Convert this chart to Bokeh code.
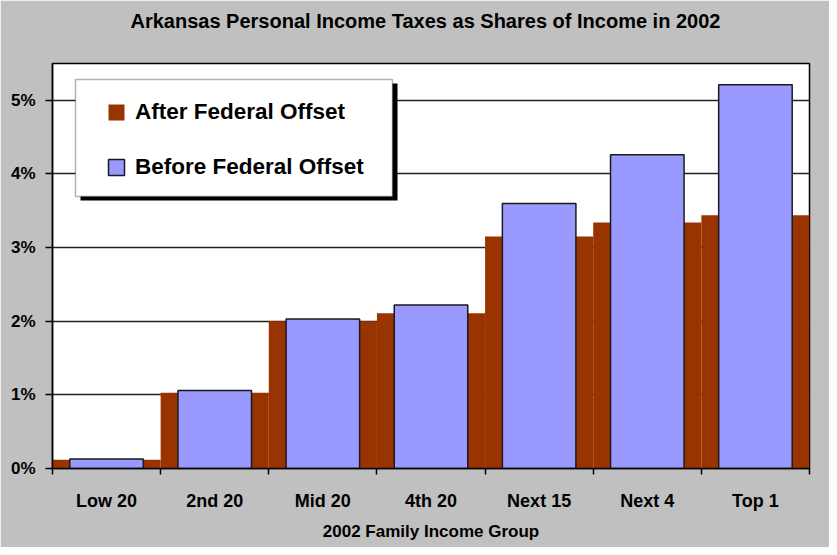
from bokeh.plotting import figure
from bokeh.models import FixedTicker, Legend, LegendItem, BoxAnnotation, Range1d, ColumnDataSource, Title
from bokeh.embed import file_html
from bokeh.resources import INLINE

categories = ["Low 20", "2nd 20", "Mid 20", "4th 20", "Next 15", "Next 4", "Top 1"]
after_offset = [0.12, 1.03, 2.00, 2.11, 3.15, 3.34, 3.44]
before_offset = [0.13, 1.06, 2.03, 2.22, 3.60, 4.26, 5.21]
y_ticks = [0, 1, 2, 3, 4, 5]
y_tick_labels = ["0%", "1%", "2%", "3%", "4%", "5%"]
title_text = "Arkansas Personal Income Taxes as Shares of Income in 2002"

FONT = "Liberation Sans"

centers = [i + 0.5 for i in range(len(categories))]
bounds = [float(i) for i in range(len(categories) + 1)]

src = ColumnDataSource(dict(x=centers, after=after_offset, before=before_offset, cat=categories))

p = figure(width=829, height=547, output_backend="svg", toolbar_location=None,
           x_range=Range1d(0, len(categories)), y_range=Range1d(0, 5.5),
           min_border_left=52, min_border_right=20, min_border_top=63, min_border_bottom=79)

p.border_fill_color = "#C0C0C0"
p.background_fill_color = "white"
p.outline_line_color = "black"
p.outline_line_width = 1.5

p.title.text = title_text
p.title.align = "left"
p.title.text_font = FONT
p.title.text_font_style = "bold"
p.title.text_font_size = "20px"
p.title.text_color = "black"
p.title.standoff = 10
p.title.offset = 78

# empty spacer title between the real title and the frame
spacer = Title(text=" ", text_font_size="12px", standoff=11, text_color="#C0C0C0")
p.add_layout(spacer, "above")

r_after = p.vbar(x="x", top="after", width=1.0, source=src, fill_color="#993300", line_color=None)
r_before = p.vbar(x="x", top="before", width=0.68, source=src, fill_color="#9999FF",
                  line_color="#1a1a1a", line_width=1.5)

# x axis
xa = p.xaxis[0]
xa.ticker = FixedTicker(ticks=centers, minor_ticks=bounds)
xa.major_label_overrides = {c: lab for c, lab in zip(centers, categories)}
xa.major_tick_line_color = None
xa.major_tick_in = 0
xa.major_tick_out = 0
xa.minor_tick_in = 0
xa.minor_tick_out = 6
xa.minor_tick_line_color = "black"
xa.minor_tick_line_width = 1.5
xa.axis_line_color = "black"
xa.axis_line_width = 1.5
xa.major_label_text_font = FONT
xa.major_label_text_font_style = "bold"
xa.major_label_text_font_size = "18px"
xa.major_label_text_color = "black"
xa.major_label_standoff = 16
xa.axis_label = "2002 Family Income Group"
xa.axis_label_text_font = FONT
xa.axis_label_text_font_style = "bold"
xa.axis_label_text_font_size = "17px"
xa.axis_label_text_color = "black"
xa.axis_label_standoff = 8

# y axis
ya = p.yaxis[0]
ya.ticker = FixedTicker(ticks=y_ticks)
ya.major_label_overrides = {t: lab for t, lab in zip(y_ticks, y_tick_labels)}
ya.major_tick_in = 0
ya.major_tick_out = 7
ya.major_tick_line_color = "black"
ya.major_tick_line_width = 1.5
ya.minor_tick_line_color = None
ya.axis_line_color = "black"
ya.axis_line_width = 1.5
ya.major_label_text_font = FONT
ya.major_label_text_font_style = "bold"
ya.major_label_text_font_size = "17px"
ya.major_label_text_color = "black"
ya.major_label_standoff = 10

p.xgrid.grid_line_color = None
p.ygrid.ticker = FixedTicker(ticks=y_ticks)
p.ygrid.grid_line_color = "#222222"
p.ygrid.grid_line_width = 1.5

# legend box with shadow
shadow = BoxAnnotation(left=28, right=345, top=385, bottom=268,
                       left_units="screen", right_units="screen", top_units="screen", bottom_units="screen",
                       fill_color="black", fill_alpha=1.0, line_color=None)
box = BoxAnnotation(left=23, right=340, top=389, bottom=272,
                    left_units="screen", right_units="screen", top_units="screen", bottom_units="screen",
                    fill_color="white", fill_alpha=1.0, line_color="black", line_width=1.5)
p.add_layout(shadow)
p.add_layout(box)

legend = Legend(items=[LegendItem(label="After Federal Offset", renderers=[r_after]),
                       LegendItem(label="Before Federal Offset", renderers=[r_before])],
                location=(54, 288), orientation="vertical",
                label_text_font=FONT, label_text_font_style="bold", label_text_font_size="22.5px",
                label_text_color="black",
                glyph_width=20, glyph_height=20, label_standoff=9, spacing=29, padding=10,
                label_height=26, border_line_color=None, background_fill_alpha=0)
p.add_layout(legend)

open("out.html", "w").write(file_html(p, INLINE))
